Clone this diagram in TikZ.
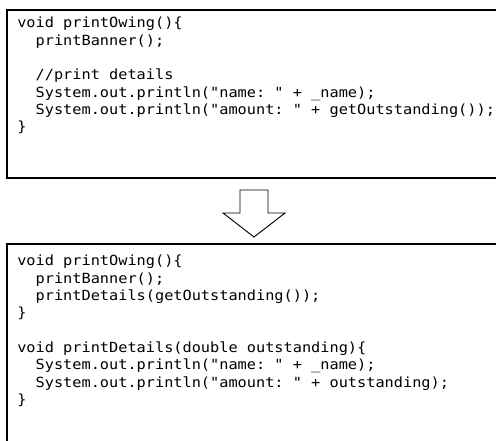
\documentclass[tikz,border=0pt]{standalone}
\usepackage{fontspec}
\setmonofont[FakeStretch=1.09]{DejaVu Sans Mono}
\newcommand{\ind}{\phantom{xx}}

\begin{document}
\begin{tikzpicture}[x=0.75pt, y=-0.75pt,
	code/.style={anchor=north west, inner sep=0pt, align=left, font=\ttfamily\fontsize{10.5}{13}\selectfont},
	frame/.style={draw, line width=1.3pt},
	bigarrow/.style={draw, line width=0.7pt, line join=miter}]
	\useasboundingbox (0,0) rectangle (496,440);
	\clip (0,0) rectangle (496,440);

	%before
	\draw[frame] (7,10) rectangle (515,178);
	\node[code] (before) at (17,17) {void printOwing()\{\\
		\ind printBanner();\\
		\mbox{}\\
		\ind //print details\\
		\ind System.out.println("name: " + \_name);\\
		\ind System.out.println("amount: " + getOutstanding());\\
		\}};

	%arrow
	\draw[bigarrow] (240,190) -- (268,190) -- (268,213) -- (285,213) -- (254,237)
		-- (223,213) -- (240,213) -- cycle;

	%after
	\draw[frame] (7,244) rectangle (515,455);
	\node[code] (after) at (17,255) {void printOwing()\{\\
		\ind printBanner();\\
		\ind printDetails(getOutstanding());\\
		\}\\
		\mbox{}\\
		void printDetails(double outstanding)\{\\
		\ind System.out.println("name: " + \_name);\\
		\ind System.out.println("amount: " + outstanding);\\
		\}};
\end{tikzpicture}
\end{document}
